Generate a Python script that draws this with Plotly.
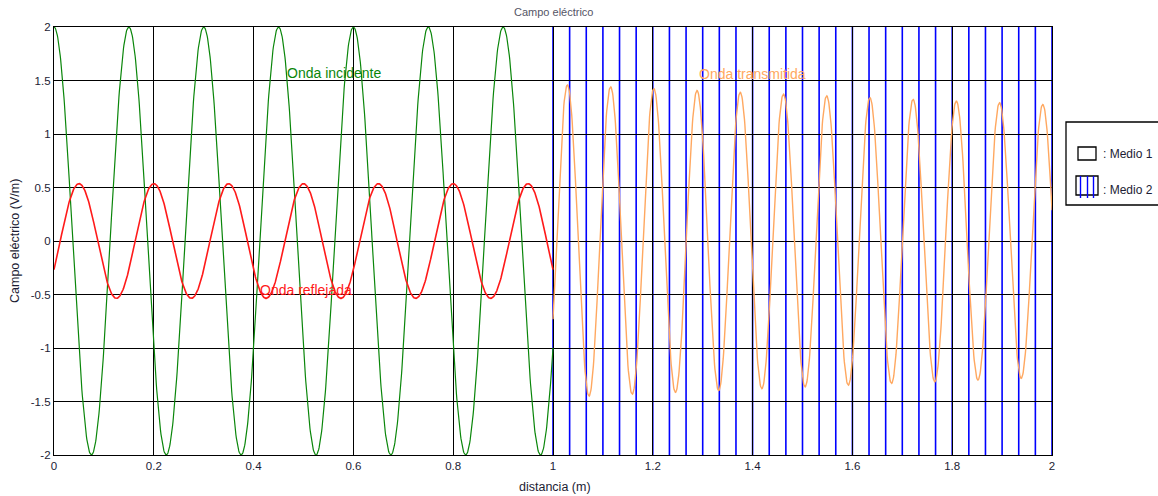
import numpy as np
import plotly.graph_objects as go

# ---- values ----
E0 = 2.0              # incident amplitude (V/m)
lambda1 = 0.15        # wavelength in medium 1 (m)
eps_r2 = 3.0          # relative permittivity of medium 2 (lambda2 = lambda1/sqrt(3) ~ 0.0866 m)
alpha2 = 0.14         # attenuation in medium 2 (Np/m)
interface = 1.0       # boundary position (m)
x_end = 2.0

x_tick_vals = [0, 0.2, 0.4, 0.6, 0.8, 1.0, 1.2, 1.4, 1.6, 1.8, 2.0]
x_tick_text = ["0", "0.2", "0.4", "0.6", "0.8", "1", "1.2", "1.4", "1.6", "1.8", "2"]
y_tick_vals = [-2, -1.5, -1, -0.5, 0, 0.5, 1, 1.5, 2]
y_tick_text = ["-2", "-1.5", "-1", "-0.5", "0", "0.5", "1", "1.5", "2"]

labels = ["Onda incidente", "Onda reflejada", "Onda transmitida"]
label_x = [0.463, 0.409, 1.289]
label_y = [1.57, -0.46, 1.56]

# ---- derived curves ----
beta1 = 2 * np.pi / lambda1
beta2 = beta1 * np.sqrt(eps_r2)
gamma = (1 - np.sqrt(eps_r2)) / (1 + np.sqrt(eps_r2))
tau = 2 / (1 + np.sqrt(eps_r2))

x1 = np.linspace(0, interface, 1200)
x2 = np.linspace(interface, x_end, 1200)
e_inc = E0 * np.cos(beta1 * x1)
e_ref = abs(gamma) * E0 * np.cos(beta1 * (2 * interface - x1))
e_tra = tau * E0 * np.exp(-alpha2 * (x2 - interface)) * np.cos(beta1 * interface + beta2 * (x2 - interface))

GREEN = "#0a860a"
RED = "#ff1a1a"
ORANGE = "#ffa860"
TXT = "#1c1c34"
FONT = "Liberation Sans, Arial, sans-serif"

fig = go.Figure()
fig.add_trace(go.Scatter(x=x1, y=e_inc, mode="lines", line=dict(color=GREEN, width=1.2), showlegend=False))
fig.add_trace(go.Scatter(x=x1, y=e_ref, mode="lines", line=dict(color=RED, width=1.6), showlegend=False))
fig.add_trace(go.Scatter(x=x2, y=e_tra, mode="lines", line=dict(color=ORANGE, width=1.4), showlegend=False))

W, H = 1158, 496
# plot area in page pixels
L, R, T, B = 54, 1052, 27, 455

def px(xp):
    return (xp - L) / (R - L)

def py(yp):
    return (B - yp) / (B - T)

shapes = []
# hatch of medium 2
for xv in np.linspace(interface, x_end, 31):
    shapes.append(dict(type="line", xref="x", yref="paper", x0=xv, x1=xv, y0=0, y1=1,
                       line=dict(color="#0000ff", width=1.6), layer="below"))

# manual legend
shapes.append(dict(type="rect", xref="paper", yref="paper", x0=px(1066), x1=px(1175), y0=py(205), y1=py(122),
                   line=dict(color="black", width=1.3), fillcolor="white", layer="above"))
shapes.append(dict(type="rect", xref="paper", yref="paper", x0=px(1078), x1=px(1096), y0=py(160), y1=py(147),
                   line=dict(color="black", width=1.3), fillcolor="white", layer="above"))
shapes.append(dict(type="rect", xref="paper", yref="paper", x0=px(1076), x1=px(1098), y0=py(195), y1=py(176),
                   line=dict(color="black", width=1.3), fillcolor="white", layer="above"))
for xp in [1080.5, 1087.5, 1093.5]:
    shapes.append(dict(type="line", xref="paper", yref="paper", x0=px(xp), x1=px(xp), y0=py(198), y1=py(176),
                       line=dict(color="#0000ff", width=1.4), layer="above"))

annotations = []
for txt, xv, yv, col in zip(labels, label_x, label_y, [GREEN, RED, ORANGE]):
    annotations.append(dict(x=xv, y=yv, xref="x", yref="y", text=txt, showarrow=False,
                            xanchor="left", yanchor="middle", font=dict(family=FONT, size=14, color=col)))
annotations.append(dict(x=px(555), y=py(487), xref="paper", yref="paper", text="distancia (m)", showarrow=False,
                        xanchor="center", yanchor="middle", font=dict(family=FONT, size=12.5, color=TXT)))
annotations.append(dict(x=px(15), y=py(241), xref="paper", yref="paper", text="Campo eléctrico (V/m)",
                        showarrow=False, textangle=-90, xanchor="center", yanchor="middle",
                        font=dict(family=FONT, size=12.5, color=TXT)))
annotations.append(dict(x=px(553), y=py(12), xref="paper", yref="paper", text="Campo eléctrico", showarrow=False,
                        xanchor="center", yanchor="middle", font=dict(family=FONT, size=11, color="#555566")))
annotations.append(dict(x=px(1101), y=py(154), xref="paper", yref="paper", text=": Medio 1", showarrow=False,
                        xanchor="left", yanchor="middle", font=dict(family=FONT, size=12, color=TXT)))
annotations.append(dict(x=px(1101), y=py(190), xref="paper", yref="paper", text=": Medio 2", showarrow=False,
                        xanchor="left", yanchor="middle", font=dict(family=FONT, size=12, color=TXT)))

axis_common = dict(showgrid=True, gridcolor="black", gridwidth=1.2, showline=True, linecolor="black",
                   linewidth=1.3, mirror=True, ticks="inside", ticklen=4, tickcolor="black", tickwidth=1,
                   zeroline=False, tickfont=dict(family=FONT, size=11.5, color=TXT), tickmode="array")

fig.update_layout(
    width=W, height=H, autosize=False,
    margin=dict(l=L, r=W - R, t=T, b=H - B, pad=0),
    paper_bgcolor="white", plot_bgcolor="white",
    xaxis=dict(range=[0, x_end], tickvals=x_tick_vals, ticktext=x_tick_text, **axis_common),
    yaxis=dict(range=[-2, 2], tickvals=y_tick_vals, ticktext=y_tick_text, **axis_common),
    shapes=shapes, annotations=annotations, showlegend=False,
)

fig.write_html("out.html", config={"displayModeBar": False},
               post_script="document.body.style.margin='0px';document.body.style.overflow='hidden';")
